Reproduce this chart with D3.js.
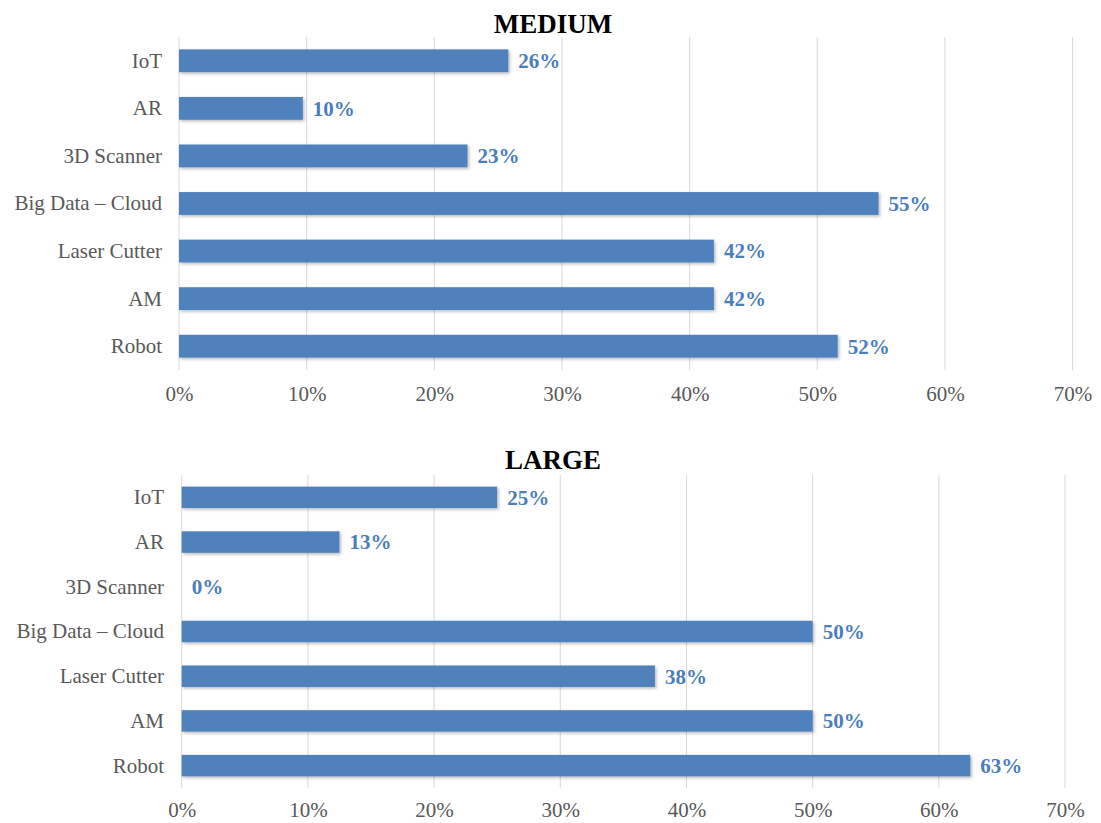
<!DOCTYPE html>
<html>
<head>
<meta charset="utf-8">
<script src="https://cdn.jsdelivr.net/npm/d3@7"></script>
<style>
  html, body { margin: 0; padding: 0; background: #ffffff; }
  svg { display: block; }
</style>
</head>
<body>
<svg id="chart" width="1101" height="823"></svg>
<script>
// Technology adoption by company size
const categories = ["IoT", "AR", "3D Scanner", "Big Data \u2013 Cloud", "Laser Cutter", "AM", "Robot"];
const mediumValues = [0.258, 0.097, 0.226, 0.548, 0.419, 0.419, 0.516];
const largeValues  = [0.25, 0.125, 0, 0.5, 0.375, 0.5, 0.625];
const tickValues = [0, 0.1, 0.2, 0.3, 0.4, 0.5, 0.6, 0.7];
const panelTitles = ["MEDIUM", "LARGE"];

const barColor = "#4f81bd";
const labelColor = "#4a7ebb";
const textColor = "#595959";
const gridColor = "#d9d9d9";
const serif = "'Liberation Serif', 'Times New Roman', serif";

const svg = d3.select("#chart");

// soft outer shadow under each bar
const defs = svg.append("defs");
const f = defs.append("filter").attr("id", "barShadow")
  .attr("x", "-5%").attr("y", "-40%").attr("width", "110%").attr("height", "180%");
f.append("feDropShadow").attr("dx", 1.5).attr("dy", 1.5)
  .attr("stdDeviation", 1.8).attr("flood-color", "#000").attr("flood-opacity", 0.28);

const panels = [
  { title: panelTitles[0], values: mediumValues, x0: 179, x1: 1072.6, y0: 37, y1: 370, titleY: 33, tickY: 401, labelRight: 162 },
  { title: panelTitles[1], values: largeValues,  x0: 181.7, x1: 1065, y0: 475, y1: 788, titleY: 469, tickY: 817, labelRight: 164 }
];

const fmt = d3.format(".0%");

panels.forEach(p => {
  const g = svg.append("g");
  const x = d3.scaleLinear().domain([0, 0.7]).range([p.x0, p.x1]);
  const y = d3.scaleBand().domain(categories).range([p.y0, p.y1]).paddingInner(0.52).paddingOuter(0.26);

  // title
  g.append("text")
    .attr("x", 553).attr("y", p.titleY)
    .attr("text-anchor", "middle")
    .attr("font-family", serif).attr("font-weight", "bold")
    .attr("font-size", 27).attr("fill", "#000")
    .text(p.title);

  // vertical gridlines
  g.selectAll(".grid").data(tickValues).join("line")
    .attr("x1", d => x(d)).attr("x2", d => x(d))
    .attr("y1", p.y0).attr("y2", p.y1)
    .attr("stroke", gridColor).attr("stroke-width", 1);

  // x axis tick labels
  const xAxis = d3.axisBottom(x).tickValues(tickValues).tickFormat(fmt).tickSize(0).tickPadding(0);
  const ax = g.append("g").attr("transform", `translate(0,${p.tickY})`).call(xAxis);
  ax.select(".domain").remove();
  ax.selectAll("text")
    .attr("y", 0).attr("dy", 0)
    .attr("font-family", serif).attr("font-size", 21).attr("fill", textColor);

  // category labels
  const yAxis = d3.axisLeft(y).tickSize(0).tickPadding(0);
  const ay = g.append("g").attr("transform", `translate(${p.labelRight},0)`).call(yAxis);
  ay.select(".domain").remove();
  ay.selectAll("text")
    .attr("x", 0).attr("dy", "0.33em")
    .attr("font-family", serif).attr("font-size", 21).attr("fill", textColor);

  const rows = categories.map((c, i) => ({ cat: c, v: p.values[i] }));

  // bars
  g.selectAll(".bar").data(rows.filter(d => d.v > 0)).join("rect")
    .attr("x", x(0)).attr("y", d => y(d.cat))
    .attr("width", d => x(d.v) - x(0)).attr("height", y.bandwidth())
    .attr("fill", barColor)
    .attr("filter", "url(#barShadow)");

  // value labels
  g.selectAll(".val").data(rows).join("text")
    .attr("x", d => x(d.v) + 10)
    .attr("y", d => y(d.cat) + y.bandwidth() / 2)
    .attr("dy", "0.35em")
    .attr("font-family", serif).attr("font-weight", "bold")
    .attr("font-size", 21).attr("fill", labelColor)
    .text(d => fmt(d.v));
});
</script>
</body>
</html>
